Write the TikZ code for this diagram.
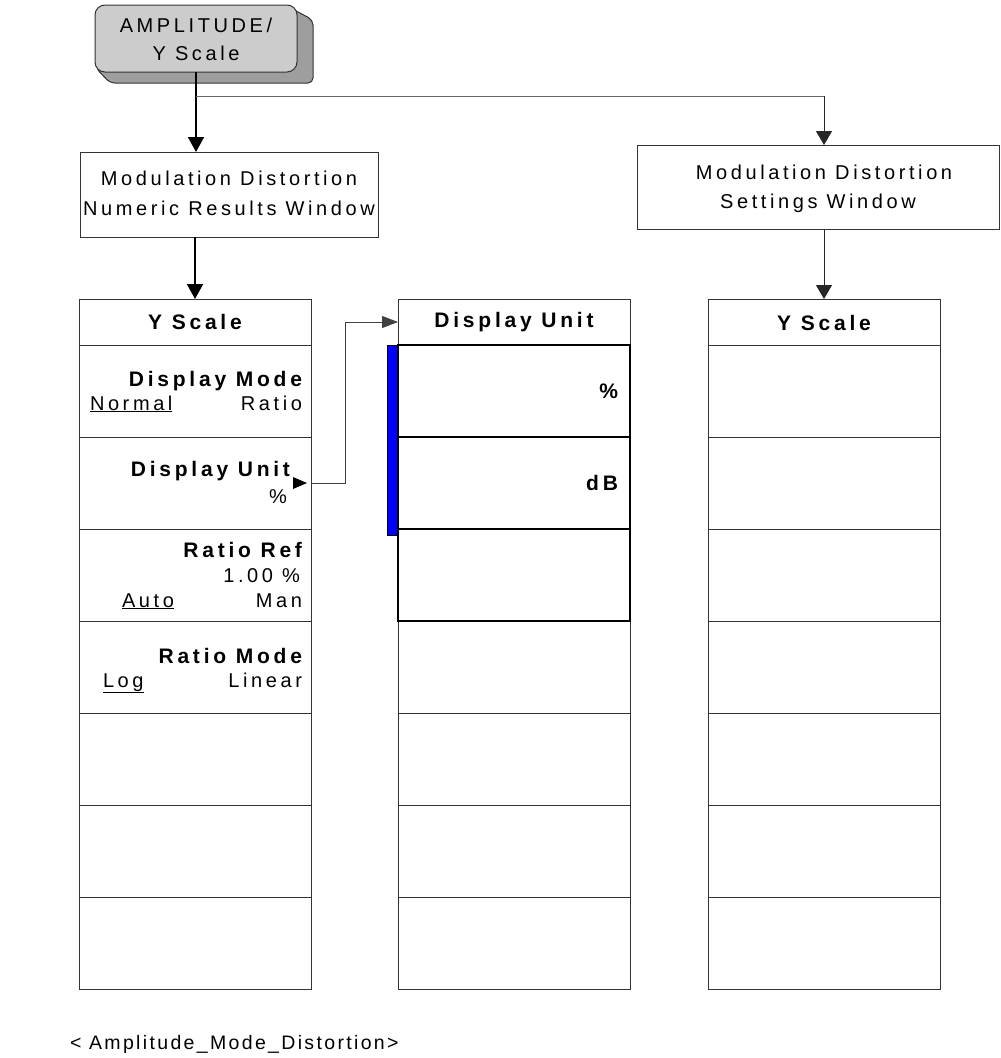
\documentclass[tikz,border=0pt]{standalone}
\usepackage{fontspec}
\setmainfont{Liberation Sans}[LetterSpace=18]
\newfontfamily\capfont{Liberation Sans}[LetterSpace=12]
\usetikzlibrary{arrows.meta}
\begin{document}
\begin{tikzpicture}[x=1pt,y=-1pt,
  frame/.style={draw=black!80, line width=1pt, inner sep=0pt, outer sep=0pt},
  key/.style={frame, anchor=north west, minimum width=232pt, minimum height=92pt},
  hdr/.style={frame, anchor=north west, minimum width=232pt, minimum height=46pt},
  boldkey/.style={key, draw=black, line width=2pt},
  tx/.style={inner sep=0pt, outer sep=0pt, font=\fontsize{20}{24}\selectfont},
  bx/.style={inner sep=0pt, outer sep=0pt, font=\fontsize{21}{25}\selectfont\bfseries},
  bigarrow/.style={-{Triangle[width=16pt,length=15pt]}, line width=2pt, black},
  thinarrow/.style={-{Triangle[width=16pt,length=14pt]}, line width=1pt, black!85},
  smallarrow/.style={-{Triangle[width=12pt,length=16pt]}, line width=1pt, black!75},
]
\useasboundingbox (0,0) rectangle (1001,1058);

% ---------- top button ----------
\filldraw[fill=black!38, draw=black!80, line width=1pt, rounded corners=5pt]
  (285,5) -- (313,20) -- (313,83) -- (110,83) -- (95,67) -- cycle;
\node[frame, fill=black!20, rounded corners=10pt, anchor=north west,
      minimum width=202pt, minimum height=67pt] (btn) at (95,5) {};
\node[tx, anchor=base] (btnA) at (196,32) {AMPLITUDE/};
\node[tx, anchor=base] (btnB) at (196,60) {Y Scale};

% ---------- windows ----------
\node[frame, anchor=north west, minimum width=298pt, minimum height=85pt] (nrw) at (80,152) {};
\node[tx, anchor=base] (nrwA) at (229,185) {Modulation Distortion};
\node[tx, anchor=base] (nrwB) at (229,215) {Numeric Results Window};

\node[frame, anchor=north west, minimum width=362pt, minimum height=84pt] (set) at (637,145) {};
\node[tx, anchor=base] (setA) at (824,179) {Modulation Distortion};
\node[tx, anchor=base] (setB) at (818,208) {Settings Window};

% ---------- left menu ----------
\node[hdr] (lh) at (79,299) {};
\foreach \i in {1,...,7} \node[key] (l\i) at (79,{345+92*(\i-1)}) {};
\node[bx, anchor=base] (lhT) at (195,329) {Y Scale};
\node[bx, anchor=base east] (l1T) at (302,386) {Display Mode};
\node[tx, anchor=base west] (l1a) at (90,410) {\underline{Normal}};
\node[tx, anchor=base east] (l1b) at (302,410) {Ratio};
\node[bx, anchor=base east] (l2T) at (290,476) {Display Unit};
\node[tx, anchor=base east] (l2b) at (287,503) {\%};
\node[bx, anchor=base east] (l3T) at (302,557) {Ratio Ref};
\node[tx, anchor=base east] (l3v) at (300,582) {1.00 \%};
\node[tx, anchor=base west] (l3a) at (122,607) {\underline{Auto}};
\node[tx, anchor=base east] (l3b) at (302,607) {Man};
\node[bx, anchor=base east] (l4T) at (302,663) {Ratio Mode};
\node[tx, anchor=base west] (l4a) at (103,687) {\underline{Log}};
\node[tx, anchor=base east] (l4b) at (302,687) {Linear};
\fill (293,477) -- (307,483) -- (293,489) -- cycle;

% ---------- middle menu ----------
\node[hdr] (mh) at (398,299) {};
\foreach \i in {4,...,7} \node[key] (m\i) at (398,{345+92*(\i-1)}) {};
\foreach \i in {1,...,3} \node[boldkey] (m\i) at (398,{345+92*(\i-1)}) {};
\node[bx, anchor=base] (mhT) at (514,327) {Display Unit};
\node[bx, anchor=base east] (m1T) at (618,398) {\%};
\node[bx, anchor=base east] (m2T) at (618,490) {dB};
\filldraw[fill=blue, draw=black, line width=0.8pt] (387,345) rectangle (397,535);

% ---------- right menu ----------
\node[hdr] (rh) at (708,299) {};
\foreach \i in {1,...,7} \node[key] (r\i) at (708,{345+92*(\i-1)}) {};
\node[bx, anchor=base] (rhT) at (824,330) {Y Scale};

% ---------- connectors ----------
\coordinate (split) at (196,96);
\draw[bigarrow] (btn.south) -- (btn.south |- nrw.north);
\draw[line width=1pt, black!60] (split) -- (824,96);
\draw[thinarrow] (824,96) -- (824,145);
\draw[bigarrow] (nrw.south -| lh.north) -- (lh.north);
\draw[thinarrow] (set.south -| rh.north) -- (rh.north);
\coordinate (du) at (311,483);
\draw[smallarrow] (du) -- (345,483) -- (345,322) -- (mh.west |- 0,322);

% ---------- caption ----------
\node[inner sep=0pt, outer sep=0pt, font=\capfont\fontsize{19.5}{24}\selectfont, anchor=base west] (cap) at (70,1049) {< Amplitude\_Mode\_Distortion>};
\end{tikzpicture}
\end{document}
